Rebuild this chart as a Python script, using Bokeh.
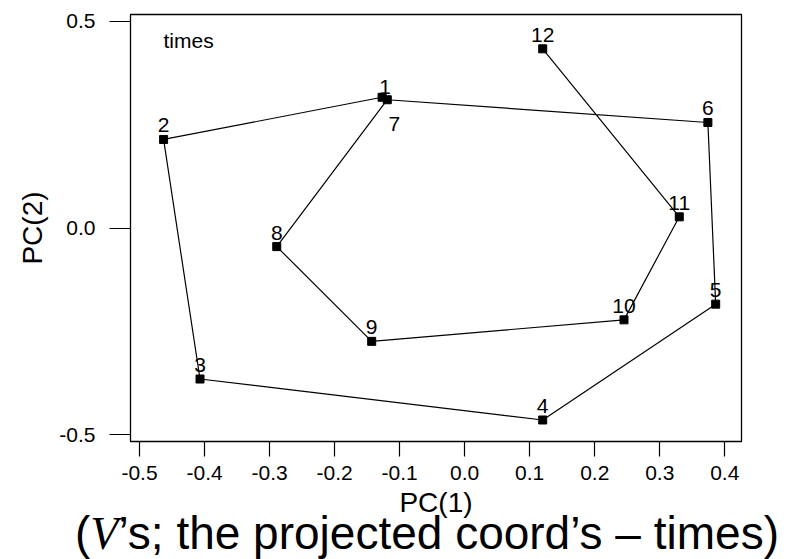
from bokeh.plotting import figure
from bokeh.layouts import column
from bokeh.models import Range1d, Label, FixedTicker, ColumnDataSource, Div
from bokeh.embed import file_html
from bokeh.resources import INLINE
from bokeh.core.properties import value

# Projected coordinates of the twelve time points on the first two PCs
times = ["1", "2", "3", "4", "5", "6", "7", "8", "9", "10", "11", "12"]
pc1 = [-0.127, -0.463, -0.407, 0.120, 0.386, 0.374, -0.119, -0.289, -0.143, 0.245, 0.330, 0.120]
pc2 = [0.316, 0.214, -0.365, -0.464, -0.184, 0.255, 0.310, -0.045, -0.274, -0.222, 0.027, 0.433]

x_ticks = [-0.5, -0.4, -0.3, -0.2, -0.1, 0.0, 0.1, 0.2, 0.3, 0.4]
y_ticks = [-0.5, 0.0, 0.5]

SANS = "Liberation Sans"
SERIF = "Liberation Serif"

# label placement (pixels) for each time point: above the marker by default
dx = [0] * len(times)
dy = [-14] * len(times)
dx[0], dy[0] = 3, -10      # "1" sits a little closer
dx[6], dy[6] = 7, 24       # "7" goes below-right to stay clear of "1"

src = ColumnDataSource(dict(x=pc1, y=pc2, t=times, dx=dx, dy=dy))

x0, x1 = -0.5139, 0.4257
y0, y1 = -0.516, 0.516

W = 811
MAIN_H = 521
CAP_H = 559 - MAIN_H

p = figure(width=W, height=MAIN_H, output_backend="svg", toolbar_location=None,
           x_range=Range1d(x0, x1), y_range=Range1d(y0, y1),
           min_border_left=130, min_border_right=70,
           min_border_top=14, min_border_bottom=80)
p.background_fill_color = "white"
p.border_fill_color = "white"
p.xgrid.visible = False
p.ygrid.visible = False
p.outline_line_color = "black"
p.outline_line_width = 1.3

for ax in (p.xaxis[0], p.yaxis[0]):
    ax.axis_line_color = None
    ax.major_tick_in = 0
    ax.minor_tick_line_color = None
    ax.major_tick_line_color = "black"
    ax.major_tick_line_width = 1.2
    ax.major_label_text_font = SANS
    ax.major_label_text_font_size = "21px"
    ax.major_label_text_color = "black"
    ax.axis_label_text_font = SANS
    ax.axis_label_text_font_size = "28px"
    ax.axis_label_text_font_style = "normal"
    ax.axis_label_text_color = "black"

p.xaxis.ticker = FixedTicker(ticks=x_ticks)
p.xaxis.major_label_overrides = {t: f"{t:.1f}" for t in x_ticks}
p.xaxis.major_tick_out = 15
p.xaxis.major_label_standoff = 9
p.xaxis.axis_label = "PC(1)"
p.xaxis.axis_label_standoff = 4

p.yaxis.ticker = FixedTicker(ticks=y_ticks)
p.yaxis.major_label_overrides = {t: f"{t:.1f}" for t in y_ticks}
p.yaxis.major_tick_out = 21
p.yaxis.major_label_standoff = 14
p.yaxis.major_label_orientation = "horizontal"
p.yaxis.axis_label = "PC(2)"
p.yaxis.axis_label_standoff = 8

# trajectory through the time points, in order
p.line("x", "y", source=src, line_color="black", line_width=1.2)
p.scatter("x", "y", source=src, marker="square", size=8,
          fill_color="black", line_color="black")
p.text("x", "y", text="t", source=src, x_offset="dx", y_offset="dy",
       text_align="center", text_baseline="alphabetic",
       text_font=value(SANS), text_font_size="21px", text_color="black")

p.add_layout(Label(x=x0, y=y1, x_offset=33, y_offset=-26, text="times",
                   text_font=SANS, text_font_size="21px", text_color="black",
                   text_baseline="alphabetic"))

# caption line under the plot, with an italic serif V
caption_html = (
    "<div style=\"position:relative;width:811px;height:%dpx;overflow:visible\">"
    "<span style=\"position:absolute;left:75px;top:-11px;white-space:nowrap;"
    "font-family:'Liberation Sans';font-size:46px;line-height:46px;color:black\">"
    "(<span style=\"font-family:'Liberation Serif';font-style:italic\">V</span>"
    "\u2019s; the projected coord\u2019s \u2013 times)</span></div>" % CAP_H
)
cap = Div(text=caption_html, width=W, height=CAP_H, margin=(0, 0, 0, 0))

layout = column(p, cap, spacing=0)
open("out.html", "w").write(file_html(layout, INLINE))
